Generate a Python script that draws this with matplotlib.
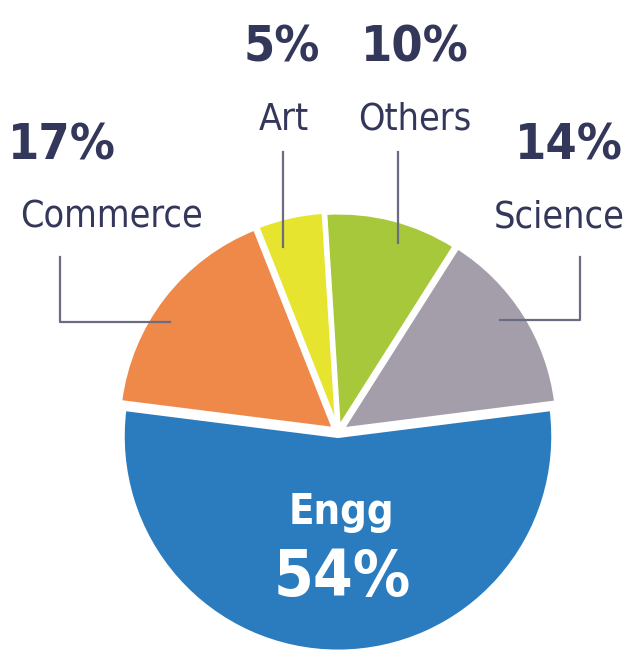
import matplotlib.pyplot as plt

# slices, starting with Engg and going counter-clockwise
names = ['Engg', 'Science', 'Others', 'Art', 'Commerce']
shares = [54, 14, 10, 5, 17]
colors = ['#2b7cbf', '#a49eab', '#a8c83c', '#e6e42e', '#ef894a']
explode = [0.02, 0.025, 0.02, 0.025, 0.025]

W, H = 625, 654
R = 215
navy = '#33375a'
line_col = '#6a6d82'
fams = ['DejaVu Sans']

fig = plt.figure(figsize=(W / 100, H / 100), dpi=100)
ax = fig.add_axes([0, 0, 1, 1])

def Y(y):
    return H - y

# Engg is centered on the bottom
start = 270 - shares[0] * 3.6 / 2
ax.pie(shares, colors=colors, explode=[e * R for e in explode], startangle=start,
       center=(338, Y(432)), radius=R, counterclock=True,
       wedgeprops=dict(edgecolor='white', linewidth=2.5))

ax.set_xlim(0, W)
ax.set_ylim(0, H)
ax.set_aspect('equal')
ax.axis('off')

# outside labels: (pct text, name, x, y of pct, x, y of name)
labels = [
    ('17%', 'Commerce', 62, 145, 112, 218),
    ('5%', 'Art', 282, 47, 284, 120),
    ('10%', 'Others', 415, 47, 415, 120),
    ('14%', 'Science', 569, 145, 559, 218),
]
for pct, nm, px, py, nx, ny in labels:
    ax.text(px, Y(py), pct, ha='center', va='center', fontsize=36,
            fontweight='bold', color=navy, family=fams, fontstretch='condensed')
    ax.text(nx, Y(ny), nm, ha='center', va='center', fontsize=27,
            color=navy, family=fams, fontstretch='condensed')

# leader lines
lw = 1.6
ax.plot([60, 60, 170], [Y(257), Y(322), Y(322)], color=line_col, lw=lw)
ax.plot([283, 283], [Y(152), Y(247)], color=line_col, lw=lw)
ax.plot([398, 398], [Y(152), Y(243)], color=line_col, lw=lw)
ax.plot([580, 580, 500], [Y(257), Y(320), Y(320)], color=line_col, lw=lw)

# label inside the big slice
ax.text(341, Y(512), names[0], ha='center', va='center', fontsize=30,
        fontweight='bold', color='white', family=fams, fontstretch='condensed')
ax.text(342, Y(578), f'{shares[0]}%', ha='center', va='center', fontsize=46,
        fontweight='bold', color='white', family=fams, fontstretch='condensed')

fig.savefig('out.png', dpi=100)
